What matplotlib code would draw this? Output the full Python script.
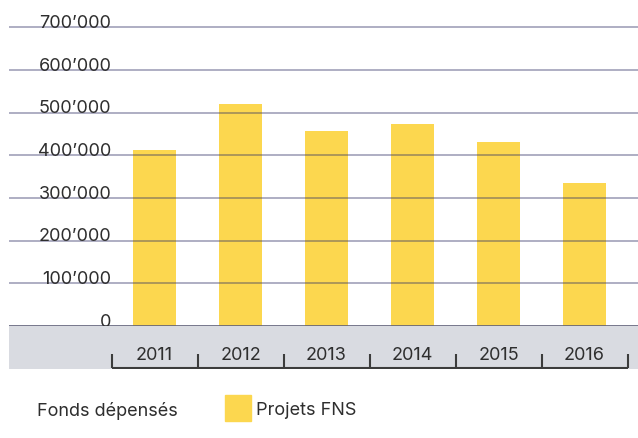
import matplotlib
matplotlib.use('Agg')
import matplotlib.pyplot as plt
from matplotlib.patches import Rectangle

plt.rcParams['font.family'] = ['Inter', 'DejaVu Sans']

years = ['2011', '2012', '2013', '2014', '2015', '2016']
funds = [412000, 519000, 457000, 473000, 430000, 334000]
yticks = [0, 100000, 200000, 300000, 400000, 500000, 600000, 700000]
legend_left = 'Fonds dépensés'
legend_series = 'Projets FNS'

W, H = 638, 439
bar_color = '#fcd74f'
band_color = '#d9dbe1'
text_color = '#2e2e2e'

fig = plt.figure(figsize=(W / 100, H / 100), dpi=100)

x0, x1 = 9, 638
xlim = ((x0 - 154.5) / 86, (x1 - 154.5) / 86)

# main plot area: zero line at y=327px, top of figure at y=0
ax = fig.add_axes([x0 / W, 1 - 327 / H, (x1 - x0) / W, 327 / H])
ax.set_xlim(*xlim)
ax.set_ylim(0, 327 / 42.7 * 100000)
ax.axis('off')

xs = range(len(years))
ax.bar(xs, funds, width=0.5, color=bar_color, zorder=2)

for v in yticks[1:]:
    ax.axhline(v, color='#333366', alpha=0.5, lw=1.1, zorder=3)
ax.axhline(0, color='#5f6078', lw=1.2, zorder=4)

for v in yticks:
    lab = '0' if v == 0 else f"{v // 1000}\u2019000"
    ax.text(-0.5, v + 600, lab, ha='right', va='baseline', fontsize=13,
            color=text_color, zorder=5)

# gray category band below the axis
band = fig.add_axes([x0 / W, 1 - 370 / H, (x1 - x0) / W, 43 / H])
band.set_xlim(*xlim)
band.set_ylim(0, 43)
band.axis('off')
band.add_patch(Rectangle((xlim[0], 0), xlim[1] - xlim[0], 43, color=band_color,
                         zorder=0))
band.hlines(0.6, -0.5, len(years) - 0.5, color='#3c3c3c', lw=1.5, zorder=2)
band.vlines([i - 0.5 for i in range(len(years) + 1)], 0.6, 15, color='#3c3c3c',
            lw=1.5, zorder=2)
for i, y in enumerate(years):
    band.text(i, 15, y, ha='center', va='center', fontsize=13, color=text_color)

# legend
fig.text(37 / W, 1 - 411 / H, legend_left, ha='left', va='center', fontsize=13,
         color=text_color)
fig.patches.append(Rectangle((225 / W, 1 - 422 / H), 26 / W, 26 / H,
                             transform=fig.transFigure, color=bar_color))
fig.text(256 / W, 1 - 411 / H, legend_series, ha='left', va='center', fontsize=13,
         color=text_color)

fig.savefig('out.png', dpi=100)
